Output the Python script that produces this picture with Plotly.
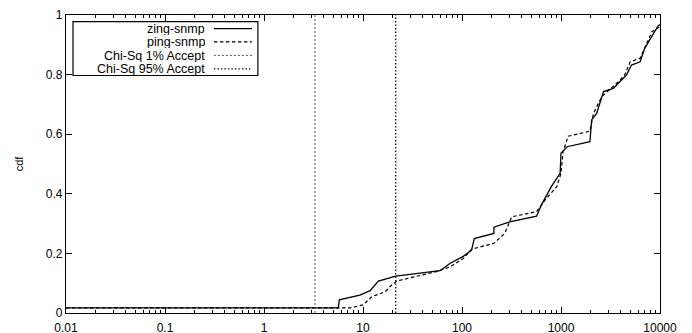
import plotly.graph_objects as go

# Empirical CDFs of the measured inter-arrival samples
zing_x = [0.01, 5.63, 5.76, 9.3, 11.8, 14.3, 21.4, 60, 76, 103, 125, 133, 210, 210,
          303, 566, 633, 690, 800, 980, 1000, 1150, 1960, 2040, 2290, 2690, 3380,
          4600, 5150, 6300, 7000, 9560, 10000]
zing_y = [0.017, 0.017, 0.044, 0.06, 0.075, 0.107, 0.124, 0.142, 0.167, 0.19, 0.211,
          0.25, 0.267, 0.288, 0.306, 0.325, 0.362, 0.385, 0.425, 0.469, 0.536, 0.558,
          0.575, 0.648, 0.67, 0.743, 0.754, 0.799, 0.832, 0.843, 0.888, 0.963, 0.968]

ping_x = [0.01, 7.4, 10, 12.3, 16.7, 19.5, 21.9, 55, 76, 103, 125, 210, 270, 318, 566,
          664, 690, 910, 1000, 1050, 1180, 1960, 2130, 2580, 3970, 4400, 5000, 6300,
          8300, 9300, 10000]
ping_y = [0.017, 0.017, 0.027, 0.055, 0.071, 0.094, 0.107, 0.139, 0.155, 0.183, 0.214,
          0.234, 0.267, 0.323, 0.34, 0.373, 0.379, 0.425, 0.469, 0.542, 0.593, 0.61,
          0.67, 0.726, 0.782, 0.799, 0.843, 0.855, 0.944, 0.955, 0.961]

# Chi-square acceptance thresholds
chi1_x = 3.27
chi95_x = 21.4

x_ticks = [0.01, 0.1, 1, 10, 100, 1000, 10000]
x_labels = ["0.01", "0.1", "1", "10", "100", "1000", "10000"]
y_ticks = [0, 0.2, 0.4, 0.6, 0.8, 1]
y_labels = ["0", "0.2", "0.4", "0.6", "0.8", "1"]

series = [
    ("zing-snmp", "solid", 1.3, "#000"),
    ("ping-snmp", "3.5px,2.5px", 1.2, "#000"),
    ("Chi-Sq 1% Accept", "2px,2px", 0.9, "#444"),
    ("Chi-Sq 95% Accept", "1.5px,2px", 1.3, "#111"),
]

FONT = "Liberation Sans, Arial, sans-serif"

fig = go.Figure()
fig.add_trace(go.Scatter(x=zing_x, y=zing_y, mode="lines",
                         line=dict(color="#000", width=1.3, dash="solid")))
fig.add_trace(go.Scatter(x=ping_x, y=ping_y, mode="lines",
                         line=dict(color="#000", width=1.2, dash="3.5px,2.5px")))
fig.add_trace(go.Scatter(x=[chi1_x, chi1_x], y=[0, 1], mode="lines",
                         line=dict(color="#444", width=0.9, dash="2px,2px")))
fig.add_trace(go.Scatter(x=[chi95_x, chi95_x], y=[0, 1], mode="lines",
                         line=dict(color="#111", width=1.3, dash="1.5px,2px")))

# Key box in the upper-left corner: label text on the left, line sample on the right
box_x0, box_x1, box_y0, box_y1 = 0.0118, 0.323, 0.797, 0.9775
fig.add_shape(type="rect", xref="paper", yref="paper",
              x0=box_x0, x1=box_x1, y0=box_y0, y1=box_y1,
              line=dict(color="#000", width=1.2), fillcolor="white", layer="above")
row_y = [0.9545, 0.9095, 0.8645, 0.8195]
for (name, dash, w, col), ry in zip(series, row_y):
    fig.add_annotation(xref="paper", yref="paper", x=0.2357, y=ry, text=name,
                       showarrow=False, xanchor="right", yanchor="middle",
                       height=13, borderpad=0, valign="middle",
                       font=dict(family=FONT, size=12.5, color="#000"))
    fig.add_shape(type="line", xref="paper", yref="paper",
                  x0=0.249, x1=0.313, y0=ry, y1=ry,
                  line=dict(color=col, width=w, dash=dash), layer="above")

fig.update_layout(
    width=692, height=333,
    margin=dict(l=66, r=32, t=15, b=20, autoexpand=False),
    paper_bgcolor="white", plot_bgcolor="white",
    showlegend=False,
    font=dict(family=FONT, size=12, color="#000"),
)
fig.update_xaxes(
    type="log", range=[-2, 4], automargin=False,
    tickvals=x_ticks, ticktext=x_labels,
    ticks="inside", ticklen=6, tickwidth=1, tickcolor="#000",
    minor=dict(ticks="inside", ticklen=3, tickcolor="#000", dtick="D1", showgrid=False),
    showline=True, linecolor="#000", linewidth=1.2, mirror="ticks",
    showgrid=False, zeroline=False,
    ticklabelstandoff=3,
    tickfont=dict(size=12),
)
fig.update_yaxes(
    range=[0, 1], automargin=False,
    tickvals=y_ticks, ticktext=y_labels,
    ticks="inside", ticklen=6, tickwidth=1, tickcolor="#000",
    showline=True, linecolor="#000", linewidth=1.2, mirror="ticks",
    showgrid=False, zeroline=False,
    title=dict(text="cdf", font=dict(size=11), standoff=19),
    tickfont=dict(size=12),
)

fig.write_html("out.html")
